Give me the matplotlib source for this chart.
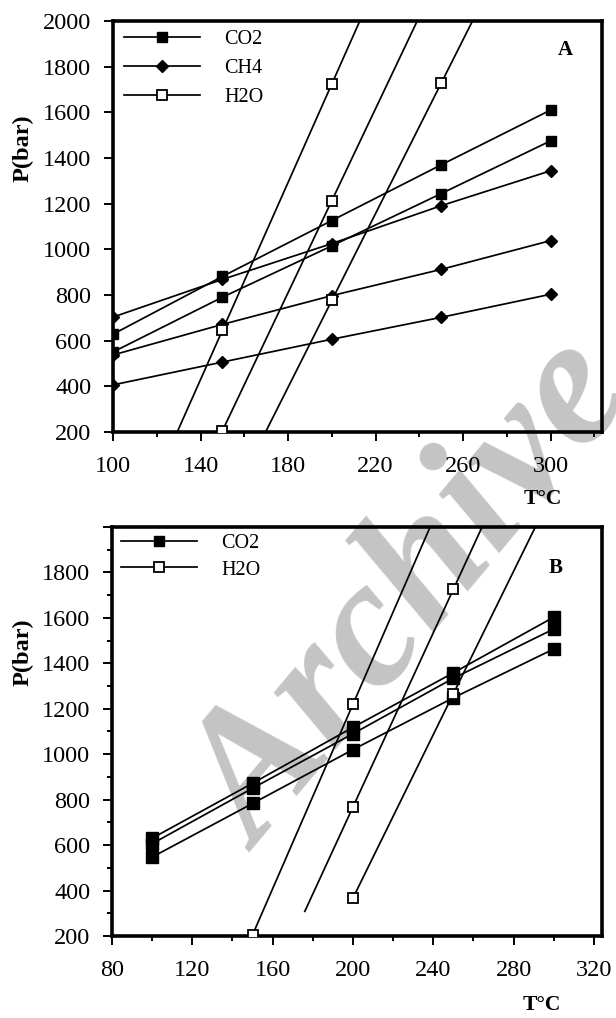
import numpy as np
import matplotlib
matplotlib.use("Agg")
import matplotlib.pyplot as plt
from matplotlib.ticker import MultipleLocator
from matplotlib.lines import Line2D

plt.rcParams['font.family'] = ['Liberation Serif', 'DejaVu Serif']

# ---- panel A data ----
t_a = [100, 150, 200, 250, 300]
co2_a = [
    [628, 881, 1126, 1370, 1610],
    [550, 790, 1015, 1244, 1475],
]
ch4_a = [
    [703, 868, 1025, 1191, 1344],
    [537, 671, 797, 912, 1038],
    [406, 506, 606, 702, 803],
]
# H2O: two measured points per line, fitted straight line drawn from t_start
h2o_a_t = [[150, 200], [150, 200], [200, 250]]
h2o_a_p = [[645, 1724], [205, 1213], [776, 1728]]
h2o_a_start = [120, 150, 160]

# ---- panel B data ----
t_b = [100, 150, 200, 250, 300]
co2_b = [
    [630, 872, 1118, 1358, 1603],
    [606, 850, 1090, 1334, 1551],
    [547, 783, 1020, 1248, 1463],
]
h2o_b_t = [[150, 200], [200, 250], [200, 250]]
h2o_b_p = [[205, 1220], [768, 1726], [367, 1266]]
h2o_b_start = [150, 176, 200]

xticks_a = [100, 140, 180, 220, 260, 300]
xticks_b = [80, 120, 160, 200, 240, 280, 320]
yticks_a = [200, 400, 600, 800, 1000, 1200, 1400, 1600, 1800, 2000]
yticks_b = [200, 400, 600, 800, 1000, 1200, 1400, 1600, 1800, 2000]
ylabels_b = ['200', '400', '600', '800', '1000', '1200', '1400', '1600', '1800', '']

LW = 1.25
SPINE = 2.6


def draw_h2o(ax, ts, ps, starts):
    for tt, pp, t0 in zip(ts, ps, starts):
        k, b = np.polyfit(tt, pp, 1)
        xs = np.array([t0, 330])
        ax.plot(xs, k * xs + b, color='black', lw=LW, zorder=2)
        ax.plot(tt, pp, ls='none', marker='s', ms=6.5, mfc='white',
                mec='black', mew=1.3, zorder=3)


def style(ax, xlim, xticks, yticks, ylabels=None, yminor=False):
    ax.set_facecolor('none')
    ax.set_xlim(*xlim)
    ax.set_ylim(200, 2000)
    ax.set_xticks(xticks)
    ax.set_xticklabels([str(v) for v in xticks])
    ax.xaxis.set_minor_locator(MultipleLocator(20))
    ax.set_yticks(yticks)
    ax.set_yticklabels(ylabels if ylabels else [str(v) for v in yticks])
    if yminor:
        ax.yaxis.set_minor_locator(MultipleLocator(100))
    for s in ax.spines.values():
        s.set_linewidth(SPINE)
    ax.tick_params(which='major', direction='out', length=6.5, width=1.4,
                   labelsize=17.5)
    ax.tick_params(which='minor', direction='out', length=3.5, width=1.4)
    ax.tick_params(axis='x', pad=11)
    ax.tick_params(axis='y', pad=9)


fig = plt.figure(figsize=(6.16, 10.18), dpi=100)

# grey watermark behind everything
fig.text(415 / 616, 1 - 598 / 1018, 'Archive', fontsize=132,
         fontstyle='italic', fontweight='bold', color='#c4c4c4',
         rotation=50, ha='center', va='center', zorder=-1)

h2o_handle = Line2D([], [], color='black', lw=LW, marker='s', ms=6.5,
                    mfc='white', mec='black', mew=1.3)

# ---------------- panel A ----------------
ax1 = fig.add_axes([0.1834, 0.5757, 0.794, 0.4037])
for p in co2_a:
    ax1.plot(t_a, p, color='black', lw=LW, marker='s', ms=7.5, zorder=3)
for p in ch4_a:
    ax1.plot(t_a, p, color='black', lw=LW, marker='D', ms=6, zorder=3)
draw_h2o(ax1, h2o_a_t, h2o_a_p, h2o_a_start)
style(ax1, (100, 323.5), xticks_a, yticks_a)

co2_handle = Line2D([], [], color='black', lw=LW, marker='s', ms=7.5)
ch4_handle = Line2D([], [], color='black', lw=LW, marker='D', ms=6)
ax1.legend([co2_handle, ch4_handle, h2o_handle], ['CO2', 'CH4', 'H2O'],
           loc='upper left', bbox_to_anchor=(0.022, 0.978), frameon=False,
           fontsize=14.5, handlelength=3.8, handletextpad=1.2,
           labelspacing=0.5, borderpad=0, borderaxespad=0)
ax1.text(0.925, 0.93, 'A', transform=ax1.transAxes, fontsize=15,
         fontweight='bold', ha='center', va='center')
fig.text(23 / 616, 1 - 148 / 1018, 'P(bar)', rotation=90, fontsize=17.5,
         fontweight='bold', ha='center', va='center')
fig.text(543 / 616, 1 - 499 / 1018, 'T°C', fontsize=15.5, fontweight='bold',
         ha='center', va='center')

# ---------------- panel B ----------------
ax2 = fig.add_axes([0.1818, 0.0806, 0.7955, 0.4018])
for p in co2_b:
    ax2.plot(t_b, p, color='black', lw=LW, marker='s', ms=8, zorder=3)
draw_h2o(ax2, h2o_b_t, h2o_b_p, h2o_b_start)
style(ax2, (80, 324), xticks_b, yticks_b, ylabels_b, yminor=True)
ax2.legend([co2_handle, h2o_handle], ['CO2', 'H2O'],
           loc='upper left', bbox_to_anchor=(0.018, 0.982), frameon=False,
           fontsize=14.5, handlelength=3.8, handletextpad=1.2,
           labelspacing=0.35, borderpad=0, borderaxespad=0)
ax2.text(0.905, 0.9, 'B', transform=ax2.transAxes, fontsize=15,
         fontweight='bold', ha='center', va='center')
fig.text(23 / 616, 1 - 652 / 1018, 'P(bar)', rotation=90, fontsize=17.5,
         fontweight='bold', ha='center', va='center')
fig.text(542 / 616, 1 - 1005 / 1018, 'T°C', fontsize=15.5, fontweight='bold',
         ha='center', va='center')

fig.savefig('out.png', dpi=100)
